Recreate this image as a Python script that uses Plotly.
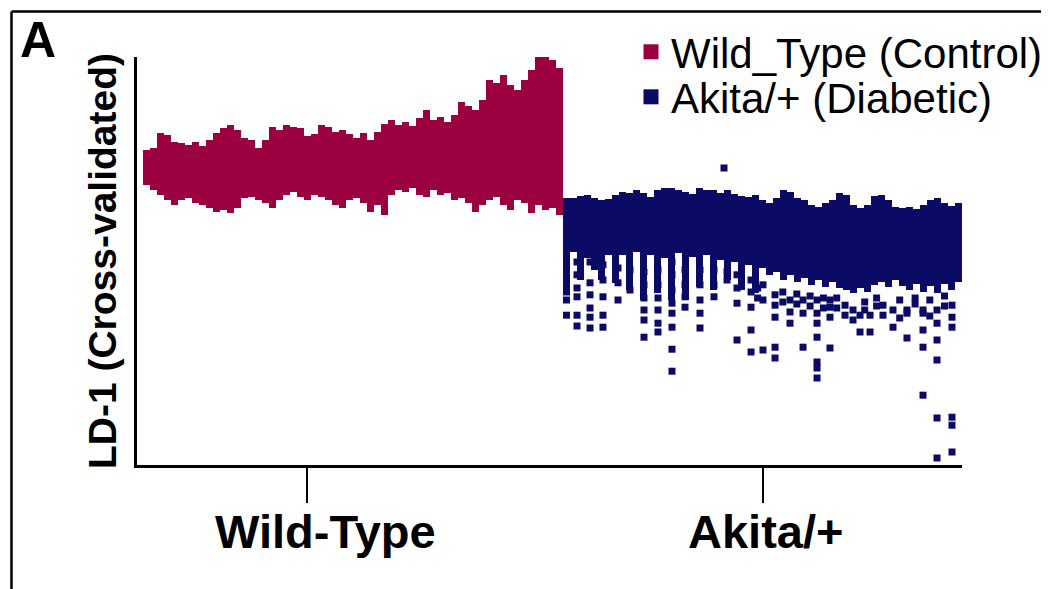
import plotly.graph_objects as go

# ---- data (LD-1 scores; columns = consecutive samples) ----
wt_top = [3.75, 3.80, 4.18, 4.13, 3.95, 3.93, 3.88, 3.95, 3.85, 4.00,
          4.18, 4.30, 4.38, 4.25, 4.05, 4.00, 3.80, 4.00, 4.33, 4.25,
          4.38, 4.33, 4.30, 4.10, 4.15, 4.38, 4.33, 4.20, 4.25, 4.15,
          4.05, 4.18, 4.00, 4.20, 4.40, 4.50, 4.38, 4.45, 4.35, 4.55,
          4.75, 4.50, 4.58, 4.45, 4.63, 4.95, 4.85, 4.75, 5.00, 5.50,
          5.43, 5.63, 5.38, 5.25, 5.50, 5.75, 6.18, 6.13, 6.00, 5.80]
wt_bottom = [2.88, 2.75, 2.63, 2.50, 2.38, 2.50, 2.55, 2.43, 2.38, 2.30,
             2.20, 2.25, 2.18, 2.30, 2.55, 2.58, 2.50, 2.43, 2.30, 2.50,
             2.63, 2.70, 2.58, 2.50, 2.63, 2.58, 2.50, 2.38, 2.30, 2.50,
             2.55, 2.43, 2.20, 2.38, 2.13, 2.63, 2.75, 2.70, 2.80, 2.63,
             2.58, 2.75, 2.63, 2.68, 2.50, 2.55, 2.43, 2.20, 2.38, 2.50,
             2.58, 2.38, 2.25, 2.50, 2.43, 2.18, 2.38, 2.25, 2.30, 2.13]

ak_top = [2.55, 2.55, 2.60, 2.63, 2.55, 2.50, 2.53, 2.63, 2.70, 2.68,
          2.75, 2.68, 2.58, 2.75, 2.80, 2.80, 2.75, 2.70, 2.65, 2.80,
          2.75, 2.75, 2.68, 2.75, 2.65, 2.60, 2.58, 2.63, 2.50, 2.43,
          2.55, 2.75, 2.70, 2.55, 2.50, 2.38, 2.33, 2.43, 2.50, 2.68,
          2.63, 2.38, 2.30, 2.38, 2.60, 2.63, 2.50, 2.33, 2.30, 2.33,
          2.28, 2.38, 2.50, 2.55, 2.43, 2.35, 2.43]
ak_bottom = [0.25, 1.20, 0.50, 1.05, 0.75, 0.50, 1.13, 0.43, 1.13, 0.25,
             1.20, 0.00, 1.13, 0.18, 1.05, 0.00, 1.18, 0.00, 1.08, 0.33,
             1.13, 0.25, 1.00, 0.50, 0.95, 0.25, 0.88, 0.18, 0.80, 0.63,
             0.70, 0.50, 0.63, 0.45, 0.55, 0.38, 0.50, 0.33, 0.45, 0.30,
             0.25, 0.18, 0.30, 0.20, 0.38, 0.45, 0.33, 0.50, 0.35, 0.25,
             0.40, 0.20, 0.35, 0.18, 0.40, 0.25, 0.45]

# individual low-scoring Akita/+ observations (sample position, scores)
ak_spread = [
    (60.00, [0.95, 0.70, 0.45, 0.20, 0.00, -0.38]),
    (61.50, [0.95, 0.63, 0.30, 0.08, -0.38, -0.65]),
    (63.36, [0.95, 0.43, 0.13, -0.20, -0.43, -0.70]),
    (65.21, [0.88, 0.50, 0.08, -0.38, -0.68]),
    (67.36, [0.80, 0.43, 0.00]),
    (69.07, [0.75, 0.25]),
    (71.07, [0.70, 0.38, 0.05, -0.25, -0.50, -0.93]),
    (73.07, [0.75, 0.38, 0.05, -0.25, -0.58, -0.80]),
    (75.07, [0.95, 0.63, 0.25, -0.08, -0.33, -0.68, -1.23, -1.78]),
    (76.93, [0.75, 0.38, 0.08, -0.18]),
    (79.07, [0.75, 0.38, 0.00, -0.33, -0.70]),
    (81.07, [0.75, 0.38, 0.08]),
    (82.50, [3.30]),
    (82.93, [0.70, 0.50]),
    (84.36, [0.63, 0.30, -0.08, -1.00]),
    (86.36, [0.50, 0.20, -0.18, -0.75, -1.30]),
    (87.30, [0.30, 0.05]),
    (88.07, [0.38, 0.00, -1.25]),
    (89.79, [0.13, -0.13, -0.43, -1.18, -1.45]),
    (90.90, [0.20, -0.05]),
    (91.93, [0.00, -0.30, -0.58]),
    (92.90, [0.15, -0.10]),
    (93.79, [0.00, -0.33, -1.18]),
    (94.80, [0.10, -0.15]),
    (95.79, [0.00, -0.33, -0.58, -0.93, -1.55, -1.70, -1.95]),
    (96.70, [0.05, -0.20]),
    (97.64, [0.00, -0.18, -0.43, -1.20]),
    (98.60, [0.05, -0.20]),
    (99.79, [-0.13, -0.38]),
    (100.93, [-0.25, -0.50]),
    (101.93, [-0.38, -0.80]),
    (102.60, [-0.05, -0.25]),
    (103.36, [-0.38, -0.80]),
    (104.30, [0.05, -0.15]),
    (105.21, [-0.13, -0.38]),
    (106.64, [-0.25, -0.68]),
    (107.60, [0.00, -0.45]),
    (108.64, [-0.25, -0.33, -0.95]),
    (109.80, [0.05, -0.10]),
    (110.93, [-0.25, -0.33, -0.75, -1.18, -2.38]),
    (111.90, [0.00, -0.40]),
    (112.93, [-0.25, -0.58, -1.00, -1.50, -2.95, -3.95]),
    (114.00, [0.10, -0.15]),
    (115.07, [-0.13, -0.43, -0.68, -2.93, -3.13, -3.80]),
]

group_labels = ["Wild-Type", "Akita/+"]
group_tick_pos = [22.93, 88.07]      # tick marks
group_label_pos = [25.5, 88.36]      # label centres (as drawn in the original)
series_names = ["Wild_Type (Control)", "Akita/+ (Diabetic)"]
y_title = "LD-1 (Cross-validated)"
panel_label = "A"

# ---- styling ----
WT_COLOR = "#9b0040"
AK_COLOR = "#0b0b66"
FONT = "Liberation Sans, Arial, Helvetica, sans-serif"

wt_x = list(range(len(wt_top)))
ak_x = list(range(len(wt_top), len(wt_top) + len(ak_top)))
sp_x = [x for x, ys in ak_spread for _ in ys]
sp_y = [y for _, ys in ak_spread for y in ys]

fig = go.Figure()
fig.add_trace(go.Bar(
    x=wt_x, y=[t - b for t, b in zip(wt_top, wt_bottom)], base=wt_bottom,
    width=1, marker=dict(color=WT_COLOR, line=dict(width=0)),
    showlegend=False, hoverinfo="skip"))
fig.add_trace(go.Bar(
    x=ak_x, y=[t - b for t, b in zip(ak_top, ak_bottom)], base=ak_bottom,
    width=1, marker=dict(color=AK_COLOR, line=dict(width=0)),
    showlegend=False, hoverinfo="skip"))
fig.add_trace(go.Scatter(
    x=sp_x, y=sp_y, mode="markers",
    marker=dict(symbol="square", size=7, color=AK_COLOR, line=dict(width=0)),
    showlegend=False, hoverinfo="skip"))

# legend entries
fig.add_trace(go.Scatter(
    x=[None], y=[None], mode="markers", name=series_names[0],
    marker=dict(symbol="square", size=15, color=WT_COLOR), legend="legend"))
fig.add_trace(go.Scatter(
    x=[None], y=[None], mode="markers", name=series_names[1],
    marker=dict(symbol="square", size=15, color=AK_COLOR), legend="legend2"))

# the page body adds an 8 px margin: the figure is placed at (8, 8)
OFF = 8
W, H = 1049 - OFF, 589 - OFF
PL, PR, PT, PB = 137, 962, 57, 465          # plot area in window pixels
L, T = PL - OFF, PT - OFF
R, B = W - (PR - OFF), H - (PB - OFF)
pw, ph = PR - PL, PB - PT


def px_x(p):
    return (p - PL) / pw


def px_y(p):
    return (PB - p) / ph


legend_common = dict(
    xanchor="left", yanchor="middle", bgcolor="rgba(0,0,0,0)",
    font=dict(family=FONT, size=42, color="black"), borderwidth=0)

label_annotations = [
    dict(text=lab, xref="x", yref="paper", x=pos, y=px_y(531),
         xanchor="center", yanchor="middle", showarrow=False,
         font=dict(family=FONT, size=47, weight="bold", color="black"))
    for lab, pos in zip(group_labels, group_label_pos)
]

fig.update_layout(
    width=W, height=H,
    margin=dict(l=L, r=R, t=T, b=B, autoexpand=False),
    paper_bgcolor="white", plot_bgcolor="white",
    barmode="overlay", bargap=0,
    font=dict(family=FONT, color="black"),
    legend=dict(x=px_x(631), y=px_y(52), **legend_common),
    legend2=dict(x=px_x(631), y=px_y(97), **legend_common),
    xaxis=dict(
        range=[-1.357, 116.5], showgrid=False, zeroline=False,
        showline=True, linecolor="black", linewidth=2.5,
        ticks="outside", ticklen=35, tickwidth=2, tickcolor="black",
        tickvals=group_tick_pos, showticklabels=False),
    yaxis=dict(
        range=[-4.125, 6.075], showgrid=False, zeroline=False,
        showline=True, linecolor="black", linewidth=2.5,
        ticks="", showticklabels=False,
        title=dict(text=y_title, standoff=6,
                   font=dict(family=FONT, size=39, weight="bold", color="black"))),
    annotations=[dict(
        text=panel_label, xref="paper", yref="paper",
        x=px_x(38), y=px_y(40), xanchor="center", yanchor="middle",
        showarrow=False,
        font=dict(family=FONT, size=50, weight="bold", color="black"))]
        + label_annotations,
    shapes=[
        dict(type="line", xref="paper", yref="paper",
             x0=px_x(11.5), x1=px_x(1060), y0=px_y(11.5), y1=px_y(11.5),
             line=dict(color="black", width=2.5)),
        dict(type="line", xref="paper", yref="paper",
             x0=px_x(11.5), x1=px_x(11.5), y0=px_y(11.5), y1=px_y(600),
             line=dict(color="black", width=2.5)),
    ],
)

fig.write_html("out.html")
